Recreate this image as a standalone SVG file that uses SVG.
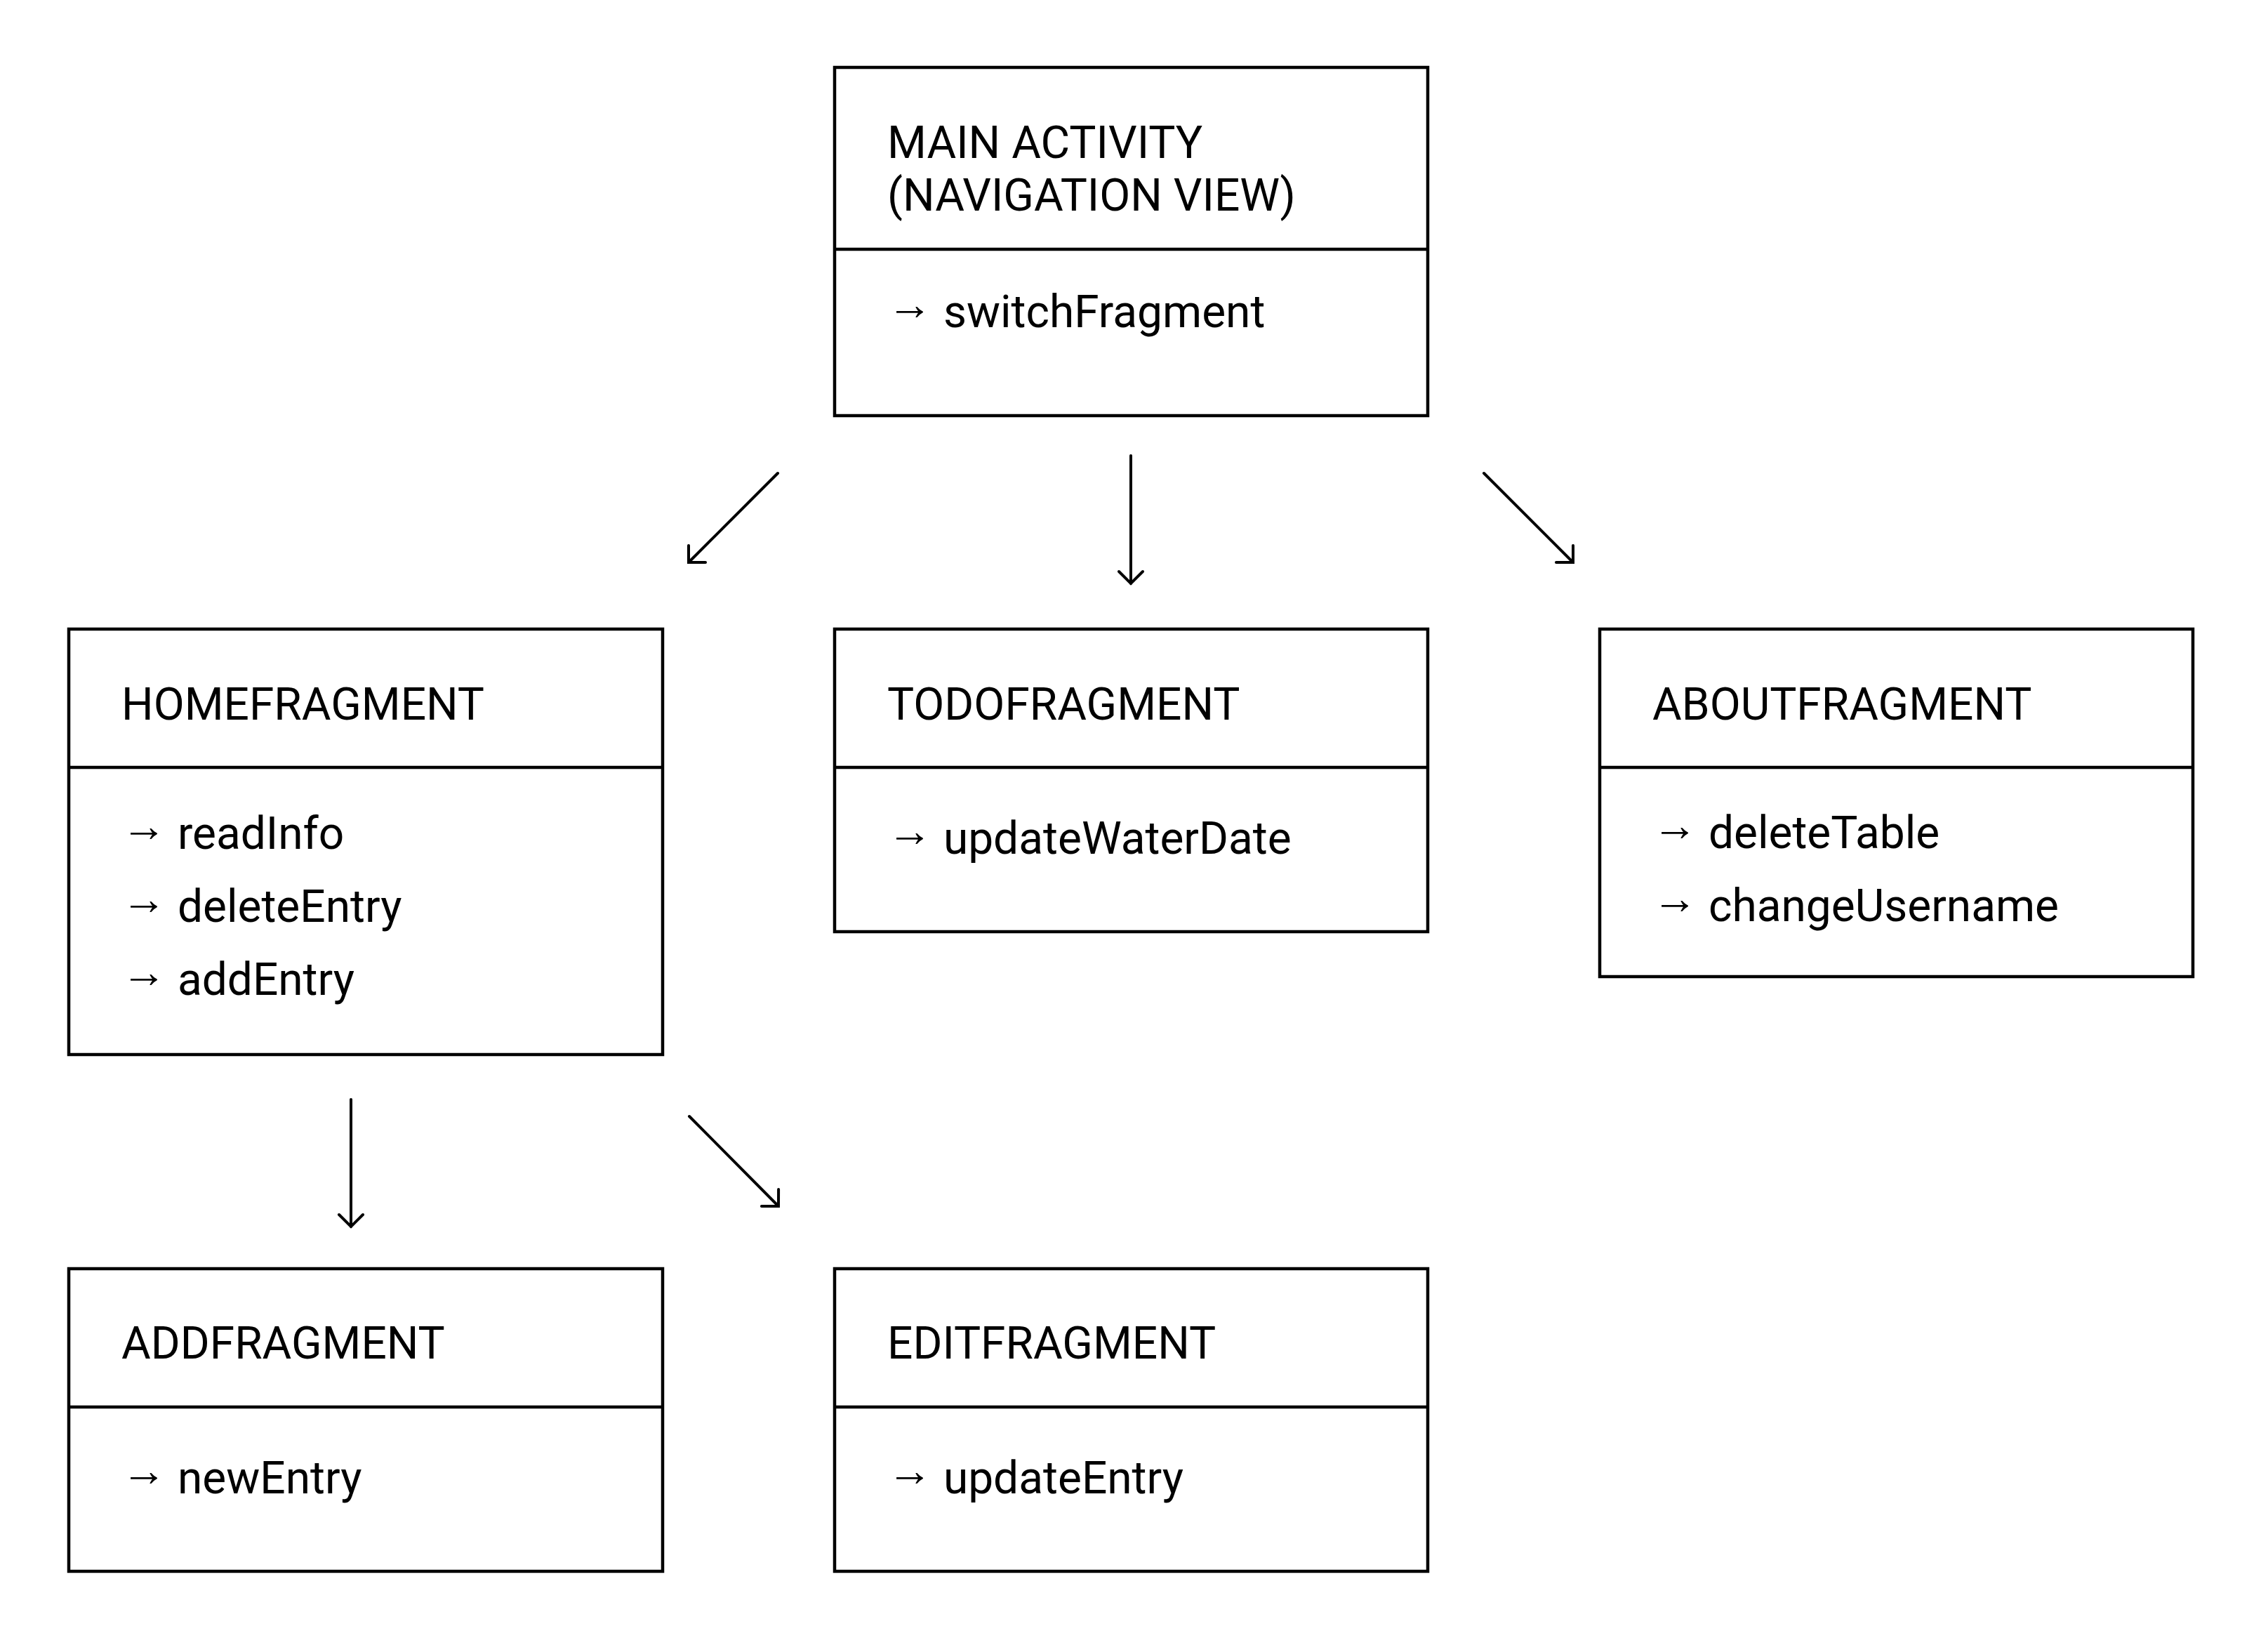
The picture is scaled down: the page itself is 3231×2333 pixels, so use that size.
<svg xmlns="http://www.w3.org/2000/svg" width="3231" height="2333" viewBox="0 0 3231 2333">
<defs>
<style>
.box{fill:#fff;stroke:#000;stroke-width:4.5}
.div{stroke:#000;stroke-width:4.5}
.t{font-family:Roboto,"Noto Sans","Liberation Sans",sans-serif;font-size:64px;fill:#000}
.c{stroke:#000;stroke-width:4;fill:none;stroke-linecap:round}
</style>
<marker id="ah" markerUnits="userSpaceOnUse" orient="auto" markerWidth="40" markerHeight="40" viewBox="-20 -20 40 40" refX="0" refY="0" overflow="visible">
<path d="M-17,-17 L0,0 L-17,17" fill="none" stroke="#000" stroke-width="4" stroke-linecap="round" stroke-linejoin="miter"/>
</marker>
</defs>
<rect width="3231" height="2333" fill="#fff"/>
<g id="connectors">
<line class="c" x1="1108" y1="674" x2="981" y2="801" marker-end="url(#ah)"/>
<line class="c" x1="1611" y1="649" x2="1611" y2="831" marker-end="url(#ah)"/>
<line class="c" x1="2114" y1="674" x2="2241" y2="801" marker-end="url(#ah)"/>
<line class="c" x1="500" y1="1566" x2="500" y2="1747" marker-end="url(#ah)"/>
<line class="c" x1="982" y1="1590" x2="1109" y2="1718" marker-end="url(#ah)"/>
</g>
<g id="main-activity">
<rect class="box" x="1189" y="96" width="845" height="496"/>
<line class="div" x1="1189" y1="355" x2="2034" y2="355"/>
<text class="t" x="1264" y="225">MAIN ACTIVITY</text>
<text class="t" x="1264" y="300">(NAVIGATION VIEW)</text>
<text class="t" x="1264" y="466"><tspan dy="-11">→</tspan><tspan dy="11"> switchFragment</tspan></text>
</g>
<g id="home-fragment">
<rect class="box" x="98" y="896" width="846" height="606"/>
<line class="div" x1="98" y1="1093" x2="944" y2="1093"/>
<text class="t" x="173" y="1025">HOMEFRAGMENT</text>
<text class="t" x="173" y="1209"><tspan dy="-11">→</tspan><tspan dy="11"> readInfo</tspan></text>
<text class="t" x="173" y="1313"><tspan dy="-11">→</tspan><tspan dy="11"> deleteEntry</tspan></text>
<text class="t" x="173" y="1417"><tspan dy="-11">→</tspan><tspan dy="11"> addEntry</tspan></text>
</g>
<g id="todo-fragment">
<rect class="box" x="1189" y="896" width="845" height="431"/>
<line class="div" x1="1189" y1="1093" x2="2034" y2="1093"/>
<text class="t" x="1264" y="1025">TODOFRAGMENT</text>
<text class="t" x="1264" y="1216"><tspan dy="-11">→</tspan><tspan dy="11"> updateWaterDate</tspan></text>
</g>
<g id="about-fragment">
<rect class="box" x="2279" y="896" width="845" height="495"/>
<line class="div" x1="2279" y1="1093" x2="3124" y2="1093"/>
<text class="t" x="2354" y="1025">ABOUTFRAGMENT</text>
<text class="t" x="2354" y="1208"><tspan dy="-11">→</tspan><tspan dy="11"> deleteTable</tspan></text>
<text class="t" x="2354" y="1312"><tspan dy="-11">→</tspan><tspan dy="11"> changeUsername</tspan></text>
</g>
<g id="add-fragment">
<rect class="box" x="98" y="1807" width="846" height="431"/>
<line class="div" x1="98" y1="2004" x2="944" y2="2004"/>
<text class="t" x="173" y="1935">ADDFRAGMENT</text>
<text class="t" x="173" y="2127"><tspan dy="-11">→</tspan><tspan dy="11"> newEntry</tspan></text>
</g>
<g id="edit-fragment">
<rect class="box" x="1189" y="1807" width="845" height="431"/>
<line class="div" x1="1189" y1="2004" x2="2034" y2="2004"/>
<text class="t" x="1264" y="1935">EDITFRAGMENT</text>
<text class="t" x="1264" y="2127"><tspan dy="-11">→</tspan><tspan dy="11"> updateEntry</tspan></text>
</g>
</svg>
